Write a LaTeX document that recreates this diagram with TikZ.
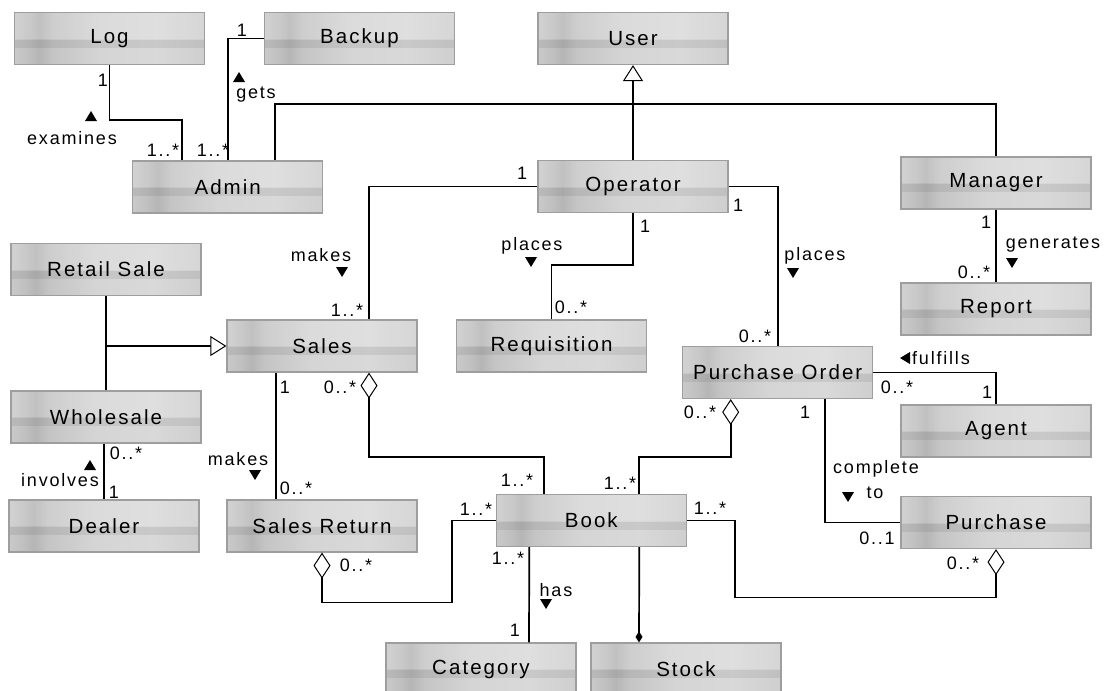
\documentclass[tikz,border=0pt]{standalone}
\usepackage{fontspec}
\setmainfont{Liberation Sans}[LetterSpace=10]
\usetikzlibrary{arrows.meta}
\pgfdeclarehorizontalshading{boxshade}{100bp}{color(0bp)=(gray!42); color(25bp)=(gray!42); color(29bp)=(gray!50); color(31.5bp)=(gray!58); color(35bp)=(gray!46); color(47.5bp)=(gray!33); color(62.5bp)=(gray!30); color(75bp)=(gray!38); color(100bp)=(gray!38)}
\newcommand\mytriup[2]{\fill (#1,#2) +(-6,5) -- +(6,5) -- +(0,-5) -- cycle;}
\newcommand\mytridown[2]{\fill (#1,#2) +(-6,-5) -- +(6,-5) -- +(0,5) -- cycle;}
\newcommand\mytrileft[2]{\fill (#1,#2) +(5,-6) -- +(5,6) -- +(-5,0) -- cycle;}
\tikzset{
  cls/.style={draw=black!38, line width=1.2pt, shading=boxshade, minimum width=190pt, minimum height=52pt, inner sep=0pt, font=\fontsize{20.5}{24}\selectfont,
    path picture={
      \fill[white,opacity=0.16] (path picture bounding box.north west) rectangle (path picture bounding box.east);
      \fill[black,opacity=0.07] ([yshift=-1pt]path picture bounding box.west) rectangle ([yshift=-9pt]path picture bounding box.east);
    }},
  asc/.style={line width=1.7pt, draw=black},
  gen/.style={asc, -{Triangle[length=16pt,width=20pt,fill=white,line width=1pt]}},
  agg/.style={asc, -{Diamond[length=26pt,width=17pt,fill=white,line width=1pt]}},
  comp/.style={asc, -{Diamond[length=11pt,width=7pt]}},
  lbl/.style={font=\fontsize{18}{20}\selectfont, inner sep=0pt}
}
\begin{document}
\begin{tikzpicture}[x=1pt,y=-1pt]
\useasboundingbox (0,0) rectangle (1109,691);
% classes
\node[cls] (Log) at (109.5,38.5) {Log};
\node[cls] (Backup) at (359.5,38.5) {Backup};
\node[cls] (User) at (633,38.5) {User};
\node[cls] (Admin) at (227.7,187) {Admin};
\node[cls] (Operator) at (633,186.5) {Operator};
\node[cls] (Manager) at (996,183) {Manager};
\node[cls] (RetailSale) at (106,269.5) {Retail Sale};
\node[cls] (Sales) at (322,346) {Sales};
\node[cls] (Requisition) at (551.5,346) {Requisition};
\node[cls] (Report) at (996,309) {Report};
\node[cls] (PO) at (777.7,372.5) {Purchase Order};
\node[cls] (Wholesale) at (106,417) {Wholesale};
\node[cls] (Agent) at (996,431) {Agent};
\node[cls] (Dealer) at (104,526) {Dealer};
\node[cls] (SalesReturn) at (322,526) {Sales Return};
\node[cls] (Book) at (591.3,520.5) {Book};
\node[cls] (Purchase) at (996,522.5) {Purchase};
\node[cls] (Category) at (481,669) {Category};
\node[cls] (Stock) at (686,669) {Stock};
% connectors
\draw[asc] (Log.south) -- ++(0,55) -| ([xshift=-46]Admin.north);
\draw[asc] (Backup.west) -| (Admin.north);
\path (User.south) ++(0,39) coordinate (ujoin);
\draw[asc] ([xshift=47]Admin.north) |- (ujoin) -| (Manager.north);
\draw[gen] (Operator.north) -- (User.south);
\draw[asc] (Operator.west) -| ([xshift=47]Sales.north);
\draw[asc] (Operator.south) -- ++(0,52) -| (Requisition.north);
\draw[asc] (Operator.east) -| (PO.north);
\draw[asc] (Manager.south) -- (Report.north);
\draw[asc] (PO.east) -| (Agent.north);
\draw[asc] ([xshift=47]PO.south) |- (Purchase.west);
\draw[agg] ([xshift=48]Book.north) -- ++(0,-37) -| ([xshift=-47]PO.south);
\draw[agg] ([xshift=-47]Book.north) -- ++(0,-37) -| ([xshift=47]Sales.south);
\draw[asc] ([xshift=-46]Sales.south) -- ([xshift=-46]SalesReturn.north);
\draw[agg] (Book.west) -- ++(-44,0) -- ++(0,82) -| (SalesReturn.south);
\draw[asc] ([xshift=-62]Book.south) -- ([xshift=48]Category.north);
\draw[comp] ([xshift=48]Book.south) -- ([xshift=-47]Stock.north);
\draw[agg] (Book.east) -- ++(48,0) -- ++(0,77) -| (Purchase.south);
\draw[asc] (RetailSale.south) -- (Wholesale.north);
\coordinate (gj) at (RetailSale.south |- Sales.west);
\draw[gen] (gj) -- (Sales.west);
\draw[asc] (Dealer.north |- Wholesale.south) -- (Dealer.north);
% multiplicities
\node[lbl] (m1) at (103,80) {1};
\node[lbl] (m2) at (163,150) {1..*};
\node[lbl] (m3) at (213,150) {1..*};
\node[lbl] (m4) at (242,30) {1};
\node[lbl] (m5) at (522,173) {1};
\node[lbl] (m6) at (738,205) {1};
\node[lbl] (m7) at (645,226) {1};
\node[lbl] (m8) at (986,222) {1};
\node[lbl] (m9) at (347,310) {1..*};
\node[lbl] (m10) at (571,307) {0..*};
\node[lbl] (m11) at (755,336) {0..*};
\node[lbl] (m12) at (974,272) {0..*};
\node[lbl] (m13) at (897,387) {0..*};
\node[lbl] (m14) at (987,392) {1};
\node[lbl] (m15) at (285,387) {1};
\node[lbl] (m16) at (340,387) {0..*};
\node[lbl] (m17) at (700,412) {0..*};
\node[lbl] (m18) at (805,412) {1};
\node[lbl] (m19) at (126,453) {0..*};
\node[lbl] (m20) at (114,492) {1};
\node[lbl] (m21) at (296,488) {0..*};
\node[lbl] (m22) at (517,480) {1..*};
\node[lbl] (m23) at (620,483) {1..*};
\node[lbl] (m24) at (476,509) {1..*};
\node[lbl] (m25) at (356,565) {0..*};
\node[lbl] (m26) at (508,558) {1..*};
\node[lbl] (m27) at (515,630) {1};
\node[lbl] (m28) at (710,508) {1..*};
\node[lbl] (m29) at (963,563) {0..*};
\node[lbl] (m30) at (877,538) {0..1};
% association names
\node[lbl] (a1) at (72,138) {examines}; \mytriup{91}{116}
\node[lbl] (a2) at (256,95) {gets}; \mytriup{239}{77}
\node[lbl] (a3) at (321,255) {makes}; \mytridown{342}{272}
\node[lbl] (a4) at (532,246) {places}; \mytridown{531}{262}
\node[lbl] (a5) at (815,256) {places}; \mytridown{793}{273}
\node[lbl] (a6) at (1053,245) {generates}; \mytridown{1012}{263}
\node[lbl, anchor=west] (a7) at (912,358) {fulfills}; \mytrileft{905}{358}
\node[lbl] (a8) at (60,480) {involves}; \mytriup{90}{465}
\node[lbl] (a9) at (238,459) {makes}; \mytridown{255}{475}
\node[lbl] (a10) at (556,590) {has}; \mytridown{546}{604}
\node[lbl] (a11) at (876,469) {complete};
\node[lbl] (a12) at (875,493) {to}; \mytridown{848}{497}
\end{tikzpicture}
\end{document}
